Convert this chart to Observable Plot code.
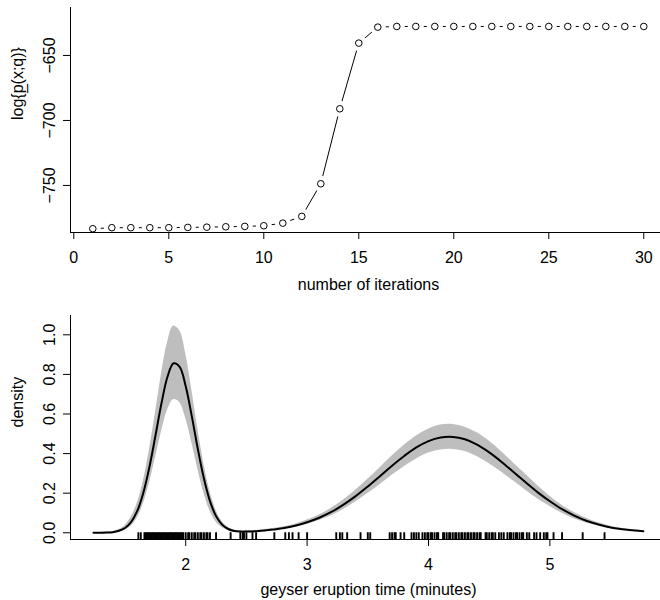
<!DOCTYPE html>
<html><head><meta charset="utf-8">
<script src="https://cdn.jsdelivr.net/npm/d3@7"></script>
<script src="https://cdn.jsdelivr.net/npm/@observablehq/plot@0.6"></script>
<style>
body{margin:0;background:#fff;}
#chart{width:660px;}
svg{display:block;}
</style></head><body><div id="chart"></div>
<script>
// ---- top panel data: log-likelihood by iteration ----
const iterations = [1,2,3,4,5,6,7,8,9,10,11,12,13,14,15,16,17,18,19,20,21,22,23,24,25,26,27,28,29,30];
const logLik = [-783.3,-782.5,-782.5,-782.5,-782.5,-782.3,-782.1,-781.8,-781.5,-781.0,-779.0,-773.8,-748.7,-691.0,-640.5,-628.2,-627.7,-627.7,-627.7,-627.7,-627.7,-627.7,-627.7,-627.7,-627.7,-627.7,-627.7,-627.7,-627.7,-627.7];
const iterTicks = [0,5,10,15,20,25,30];
const logLikTicks = [-750,-700,-650];

// ---- bottom panel data: density estimate with band ----
const eruption = [1.24,1.30,1.35,1.40,1.45,1.50,1.55,1.60,1.65,1.70,1.75,1.80,1.85,1.90,1.95,2.00,2.05,2.10,2.15,2.20,2.25,2.30,2.35,2.40,2.45,2.50,2.55,2.60,2.70,2.80,2.90,3.00,3.10,3.20,3.30,3.40,3.50,3.60,3.70,3.80,3.90,4.00,4.10,4.20,4.30,4.40,4.50,4.60,4.70,4.80,4.90,5.00,5.10,5.20,5.30,5.40,5.50,5.60,5.70,5.77];
const density = [0.000,0.000,0.001,0.003,0.010,0.024,0.054,0.109,0.200,0.329,0.488,0.653,0.788,0.856,0.838,0.740,0.589,0.423,0.274,0.160,0.084,0.041,0.019,0.009,0.006,0.006,0.007,0.009,0.015,0.023,0.035,0.053,0.076,0.105,0.142,0.185,0.234,0.286,0.339,0.388,0.431,0.463,0.481,0.484,0.472,0.445,0.406,0.359,0.307,0.255,0.204,0.159,0.119,0.087,0.061,0.042,0.027,0.018,0.011,0.008];
const lower = [0,0,0,0.001,0.005,0.013,0.033,0.073,0.144,0.247,0.376,0.509,0.619,0.672,0.658,0.577,0.456,0.321,0.200,0.110,0.054,0.025,0.011,0.004,0.003,0.003,0.004,0.005,0.010,0.017,0.027,0.042,0.062,0.086,0.118,0.155,0.198,0.243,0.290,0.334,0.373,0.403,0.418,0.421,0.411,0.385,0.349,0.307,0.261,0.215,0.171,0.133,0.099,0.071,0.049,0.034,0.021,0.014,0.008,0.006];
const upper = [0.001,0.001,0.003,0.006,0.016,0.036,0.078,0.148,0.258,0.414,0.602,0.800,0.960,1.044,1.022,0.906,0.724,0.525,0.348,0.210,0.114,0.057,0.027,0.014,0.010,0.010,0.011,0.013,0.020,0.029,0.043,0.064,0.090,0.124,0.166,0.215,0.270,0.329,0.388,0.442,0.489,0.523,0.544,0.547,0.533,0.505,0.463,0.411,0.353,0.295,0.237,0.185,0.139,0.103,0.073,0.050,0.033,0.022,0.014,0.010];
const rug = [1.61,1.63,1.66,1.67,1.68,1.69,1.70,1.71,1.72,1.73,1.74,1.75,1.76,1.77,1.78,1.79,1.80,1.81,1.82,1.83,1.84,1.85,1.86,1.87,1.88,1.89,1.90,1.91,1.92,1.93,1.94,1.95,1.96,1.97,1.98,2.00,2.02,2.03,2.05,2.07,2.08,2.10,2.12,2.13,2.15,2.17,2.18,2.20,2.25,2.37,2.45,2.47,2.48,2.50,2.55,2.58,2.73,2.82,2.85,2.88,2.93,3.00,3.24,3.27,3.29,3.33,3.44,3.50,3.52,3.68,3.70,3.72,3.73,3.77,3.80,3.86,3.88,3.90,3.92,3.95,3.97,3.99,4.00,4.02,4.03,4.05,4.07,4.08,4.12,4.13,4.15,4.17,4.18,4.20,4.22,4.23,4.25,4.27,4.28,4.30,4.32,4.33,4.35,4.37,4.38,4.40,4.42,4.43,4.47,4.48,4.50,4.52,4.53,4.55,4.58,4.60,4.62,4.65,4.67,4.68,4.70,4.72,4.73,4.75,4.77,4.78,4.81,4.83,4.87,4.89,4.92,4.95,4.97,4.98,5.03,5.10,5.27,5.45];
const eruptionTicks = [2,3,4,5];
const densityTicks = [0,0.2,0.4,0.6,0.8,1.0];

const style = {fontFamily: '"Liberation Sans", Arial, Helvetica, sans-serif', fontSize: "16px", color: "black", background: "white", overflow: "visible"};

const iterData = iterations.map((x, i) => ({x, y: logLik[i]}));
const xDom1 = [-0.174, 30.88], yDom1 = [-786.2, -613.1];

const topPlot = Plot.plot({
  width: 660, height: 300, marginLeft: 70, marginRight: 0, marginTop: 7, marginBottom: 68,
  x: {domain: xDom1}, y: {domain: yDom1}, style,
  marks: [
    Plot.line(iterData, {x: "x", y: "y", stroke: "black", strokeWidth: 1}),
    Plot.dot(iterData, {x: "x", y: "y", r: 8, fill: "white", stroke: "none"}),
    Plot.dot(iterData, {x: "x", y: "y", r: 3.3, fill: "white", stroke: "black", strokeWidth: 1}),
    Plot.ruleX([xDom1[0]], {stroke: "black"}),
    Plot.ruleY([yDom1[0]], {stroke: "black"}),
    Plot.axisX({ticks: iterTicks, tickFormat: d3.format("d"), tickSize: 7, tickPadding: 12, label: null}),
    Plot.axisY({ticks: logLikTicks, tickSize: 7, tickPadding: 9, tickRotate: -90, label: null}),
    Plot.text(["number of iterations"], {text: d => d, frameAnchor: "bottom", dy: 52, dx: 3, lineAnchor: "middle"}),
    Plot.text(["log{p\u0332(x;q)}"], {text: d => d, frameAnchor: "left", dx: -53, rotate: -90, lineAnchor: "middle"})
  ]
});

const gridData = eruption.map((x, i) => ({x, d: density[i], lo: lower[i], hi: upper[i]}));
const xDom2 = [1.051, 5.911], yDom2 = [-0.034, 1.0975];
const rugLength = 0.034;

const bottomPlot = Plot.plot({
  width: 660, height: 300, marginLeft: 70, marginRight: 0, marginTop: 15, marginBottom: 61,
  x: {domain: xDom2}, y: {domain: yDom2}, style,
  marks: [
    Plot.areaY(gridData, {x: "x", y1: "lo", y2: "hi", fill: "#bebebe", curve: "catmull-rom"}),
    Plot.line(gridData, {x: "x", y: "d", stroke: "black", strokeWidth: 2, curve: "catmull-rom"}),
    Plot.ruleX(rug, {x: d => d, y1: yDom2[0], y2: yDom2[0] + rugLength, stroke: "black", strokeWidth: 1.9}),
    Plot.ruleX([xDom2[0]], {stroke: "black"}),
    Plot.ruleY([yDom2[0]], {stroke: "black"}),
    Plot.axisX({ticks: eruptionTicks, tickFormat: d3.format("d"), tickSize: 7, tickPadding: 12, label: null}),
    Plot.axisY({ticks: densityTicks, tickFormat: d3.format(".1f"), tickSize: 7, tickPadding: 9, tickRotate: -90, label: null}),
    Plot.text(["geyser eruption time (minutes)"], {text: d => d, frameAnchor: "bottom", dy: 50, dx: 3, lineAnchor: "middle"}),
    Plot.text(["density"], {text: d => d, frameAnchor: "left", dx: -53, rotate: -90, lineAnchor: "middle"})
  ]
});

const chart = document.getElementById("chart");
chart.append(topPlot, bottomPlot);
</script>
</body></html>
